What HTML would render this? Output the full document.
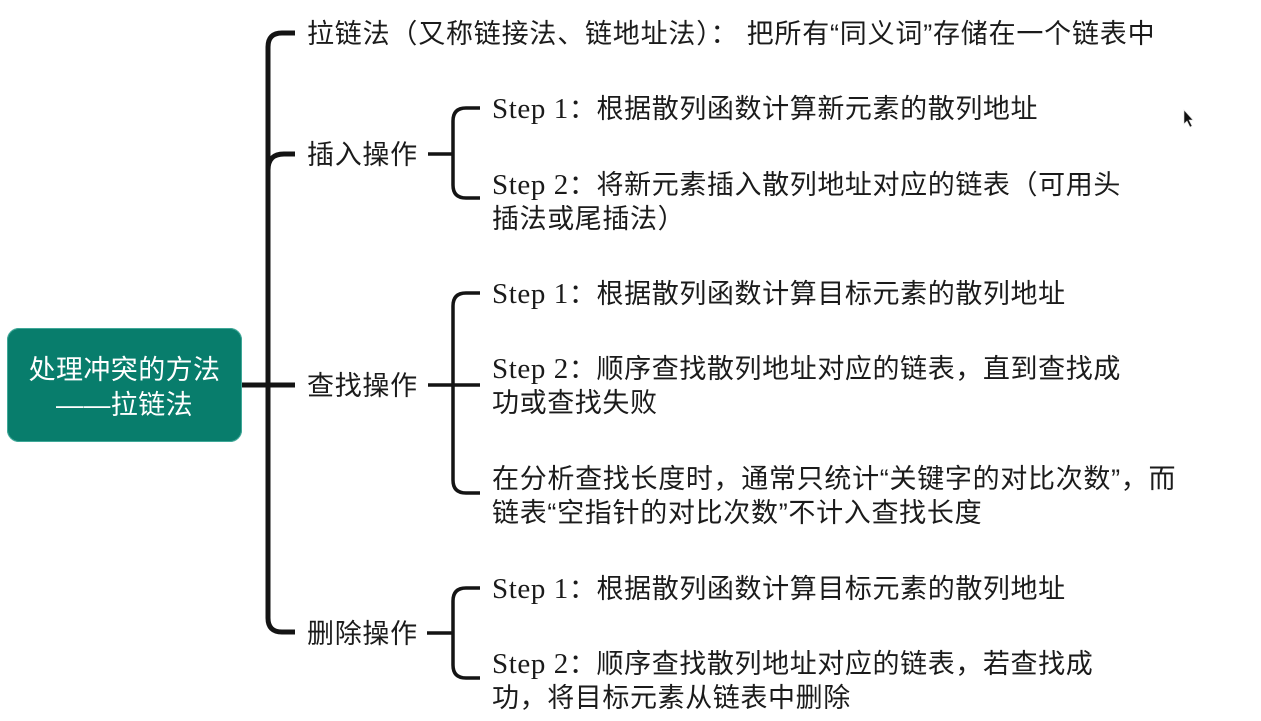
<!DOCTYPE html>
<html><head><meta charset="utf-8">
<style>
html,body{margin:0;padding:0;background:#fff;}
body{width:1261px;height:721px;position:relative;overflow:hidden;}
.t{position:absolute;white-space:nowrap;font-family:"Liberation Sans","Noto Sans CJK SC",sans-serif;font-size:27px;line-height:34px;color:#1b1b1b;letter-spacing:0.7px;}
.s{font-family:"Liberation Serif","Noto Sans CJK SC",serif;letter-spacing:0.6px;}
.s b{font-weight:normal;font-size:29px;}
.root{position:absolute;left:7px;top:328px;width:235px;height:114px;background:#087d6c;border-radius:12px;box-shadow:0 0 0 1px #3fa898 inset;}
.rt{position:absolute;left:0;width:235px;text-align:center;color:#fff;font-family:"Liberation Sans","Noto Sans CJK SC",sans-serif;font-size:27px;line-height:34px;letter-spacing:0.4px;white-space:nowrap;}
svg{position:absolute;left:0;top:0;}
</style></head><body>
<svg width="1261" height="721" viewBox="0 0 1261 721">
<g fill="none" stroke="#141414" stroke-width="5" stroke-linecap="butt">
<path d="M295,33 H282 Q268,33 268,47 V618 Q268,632 282,632 H295"/>
<path d="M268,170 Q268,154 284,154 H295"/>
<path d="M242,385 H295"/>
</g>
<g fill="none" stroke="#141414" stroke-width="3.5">
<path d="M428,154 H453"/>
<path d="M480,108 H466 Q453,108 453,121 V185 Q453,198 466,198 H480"/>
<path d="M428,385 H480"/>
<path d="M480,293 H466 Q453,293 453,306 V480 Q453,493 466,493 H480"/>
<path d="M427,633 H453"/>
<path d="M480,588 H466 Q453,588 453,601 V665 Q453,678 466,678 H480"/>
</g>
<polygon points="1184,110 1184,124 1187,121 1190,127 1192,126 1189,120 1193,120" fill="#111" stroke="#ddd" stroke-width="0.6"/>
</svg>

<div class="root">
<div class="rt" style="top:25px;">处理冲突的方法</div>
<div class="rt" style="top:60px;">——拉链法</div>
</div>

<div class="t" style="left:307px;top:17px;letter-spacing:0.8px;">拉链法（又称链接法、链地址法）： 把所有“同义词”存储在一个链表中</div>
<div class="t" style="left:307px;top:138px;">插入操作</div>
<div class="t" style="left:307px;top:369px;">查找操作</div>
<div class="t" style="left:307px;top:617px;">删除操作</div>

<div class="t s" style="left:492px;top:92px;"><b>Step 1</b>：根据散列函数计算新元素的散列地址</div>
<div class="t s" style="left:492px;top:168px;"><b>Step 2</b>：将新元素插入散列地址对应的链表（可用头<br>插法或尾插法）</div>

<div class="t s" style="left:492px;top:277px;"><b>Step 1</b>：根据散列函数计算目标元素的散列地址</div>
<div class="t s" style="left:492px;top:352px;"><b>Step 2</b>：顺序查找散列地址对应的链表，直到查找成<br>功或查找失败</div>
<div class="t" style="left:492px;top:462px;">在分析查找长度时，通常只统计“关键字的对比次数”，而<br>链表“空指针的对比次数”不计入查找长度</div>

<div class="t s" style="left:492px;top:572px;"><b>Step 1</b>：根据散列函数计算目标元素的散列地址</div>
<div class="t s" style="left:492px;top:647px;"><b>Step 2</b>：顺序查找散列地址对应的链表，若查找成<br>功，将目标元素从链表中删除</div>
</body></html>
